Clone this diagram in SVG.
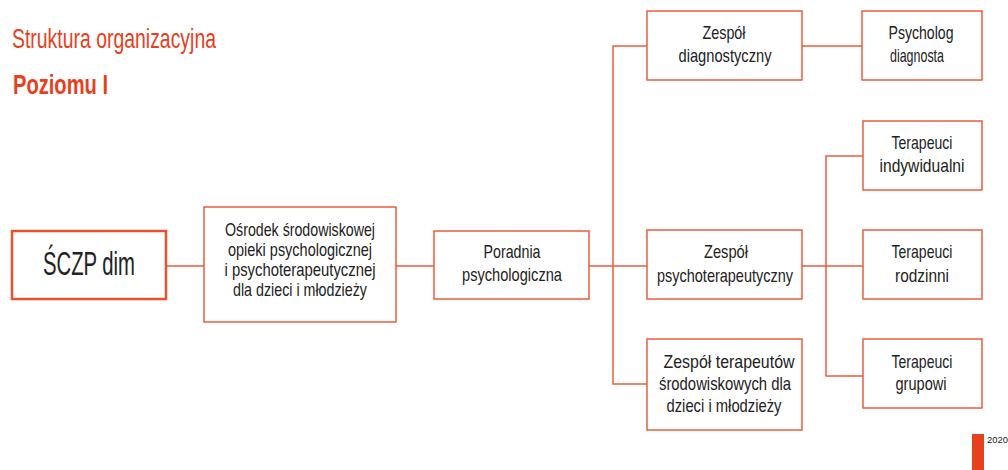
<svg xmlns="http://www.w3.org/2000/svg" width="1008" height="470" viewBox="0 0 1008 470">
<style>
.box{fill:#fff;stroke:#EF5B3B;stroke-width:1.5}
.main{fill:#fff;stroke:#EB4F2C;stroke-width:2.5}
.t{font-family:"Liberation Sans",Arial,sans-serif;font-size:19px;fill:#222;text-anchor:middle}
.conn line,.conn polyline{stroke:#EF5B3B;stroke-width:1.5;fill:none}
.title{font-family:"Liberation Sans",Arial,sans-serif;fill:#E8401C}
</style>
<rect width="1008" height="470" fill="#fff"/>
<text class="title" x="12" y="48" style="font-size:27px" textLength="204" lengthAdjust="spacingAndGlyphs">Struktura organizacyjna</text>
<text class="title" x="13" y="94" style="font-size:28px;font-weight:bold" textLength="95" lengthAdjust="spacingAndGlyphs">Poziomu I</text>
<g class="conn">
<line x1="166" y1="266" x2="204" y2="266"/>
<line x1="396" y1="266" x2="434" y2="266"/>
<line x1="589" y1="266" x2="647" y2="266"/>
<polyline points="647,46 613,46 613,384 647,384"/>
<line x1="802" y1="46" x2="862" y2="46"/>
<line x1="802" y1="266" x2="863" y2="266"/>
<polyline points="863,156 826,156 826,376 863,376"/>
</g>
<g id="sczp"><rect class="main" x="12" y="231" width="154" height="68"/>
<text class="t" x="89" y="275" style="font-size:33px" textLength="92" lengthAdjust="spacingAndGlyphs">ŚCZP dim</text></g>
<g id="osrodek"><rect class="box" x="204" y="207" width="192" height="115"/>
<text class="t" x="300" y="236" textLength="150" lengthAdjust="spacingAndGlyphs">Ośrodek środowiskowej</text>
<text class="t" x="300" y="256" textLength="144" lengthAdjust="spacingAndGlyphs">opieki psychologicznej</text>
<text class="t" x="300" y="276" textLength="151" lengthAdjust="spacingAndGlyphs">i psychoterapeutycznej</text>
<text class="t" x="300" y="296" textLength="134" lengthAdjust="spacingAndGlyphs">dla dzieci i młodzieży</text></g>
<g id="poradnia"><rect class="box" x="434" y="231" width="155" height="68"/>
<text class="t" x="512" y="258" textLength="57" lengthAdjust="spacingAndGlyphs">Poradnia</text>
<text class="t" x="512" y="281" textLength="100" lengthAdjust="spacingAndGlyphs">psychologiczna</text></g>
<g id="diag"><rect class="box" x="647" y="11" width="155" height="69"/>
<text class="t" x="724" y="39" textLength="43" lengthAdjust="spacingAndGlyphs">Zespół</text>
<text class="t" x="725" y="62" textLength="93" lengthAdjust="spacingAndGlyphs">diagnostyczny</text></g>
<g id="psycholog"><rect class="box" x="862" y="11" width="120" height="69"/>
<text class="t" x="921" y="39" textLength="65" lengthAdjust="spacingAndGlyphs">Psycholog</text>
<text class="t" x="917" y="62" textLength="54" lengthAdjust="spacingAndGlyphs">diagnosta</text></g>
<g id="psychoter"><rect class="box" x="647" y="230" width="155" height="69"/>
<text class="t" x="726" y="258" textLength="44" lengthAdjust="spacingAndGlyphs">Zespół</text>
<text class="t" x="725" y="282" textLength="136" lengthAdjust="spacingAndGlyphs">psychoterapeutyczny</text></g>
<g id="srodowiskowi"><rect class="box" x="647" y="339" width="155" height="91"/>
<text class="t" x="729" y="368" textLength="131" lengthAdjust="spacingAndGlyphs">Zespół terapeutów</text>
<text class="t" x="725" y="390" textLength="132" lengthAdjust="spacingAndGlyphs">środowiskowych dla</text>
<text class="t" x="724" y="412" textLength="115" lengthAdjust="spacingAndGlyphs">dzieci i młodzieży</text></g>
<g id="indyw"><rect class="box" x="863" y="121" width="119" height="69"/>
<text class="t" x="922" y="149" textLength="61" lengthAdjust="spacingAndGlyphs">Terapeuci</text>
<text class="t" x="922" y="172" textLength="85" lengthAdjust="spacingAndGlyphs">indywidualni</text></g>
<g id="rodzinni"><rect class="box" x="863" y="230" width="119" height="69"/>
<text class="t" x="922" y="258" textLength="61" lengthAdjust="spacingAndGlyphs">Terapeuci</text>
<text class="t" x="922" y="282" textLength="54" lengthAdjust="spacingAndGlyphs">rodzinni</text></g>
<g id="grupowi"><rect class="box" x="863" y="339" width="119" height="69"/>
<text class="t" x="922" y="368" textLength="61" lengthAdjust="spacingAndGlyphs">Terapeuci</text>
<text class="t" x="921" y="390" textLength="51" lengthAdjust="spacingAndGlyphs">grupowi</text></g>
<rect x="972" y="434" width="12" height="36" fill="#E8401C"/>
<text x="987" y="443" font-family="Liberation Sans,Arial,sans-serif" font-size="9" fill="#222" textLength="21" lengthAdjust="spacingAndGlyphs">2020</text>
</svg>
